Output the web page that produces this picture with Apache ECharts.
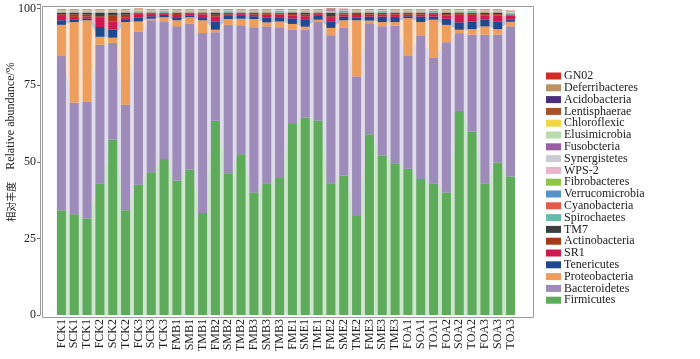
<!DOCTYPE html>
<html>
<head>
<meta charset="utf-8">
<script src="https://cdn.jsdelivr.net/npm/echarts@6/dist/echarts.min.js"></script>
<style>html,body{margin:0;padding:0;background:#fff}#c{width:700px;height:359px}</style>
</head>
<body>
<div id="c"></div>
<script>
var categories = ['FCK1','SCK1','TCK1','FCK2','SCK2','TCK2','FCK3','SCK3','TCK3','FMB1','SMB1','TMB1','FMB2','SMB2','TMB2','FMB3','SMB3','TMB3','FME1','SME1','TME1','FME2','SME2','TME2','FME3','SME3','TME3','FOA1','SOA1','TOA1','FOA2','SOA2','TOA2','FOA3','SOA3','TOA3'];
var yTicks = [0, 25, 50, 75, 100];

var Firmicutes      = [34.2,32.9,31.4,42.8,57.2,34.2,42.5,46.6,50.9,43.9,47.5,33.3,63.4,46.3,52.5,39.9,43.0,44.7,62.3,64.4,63.4,43.0,45.5,32.3,59.0,52.0,49.5,47.7,44.4,42.8,39.9,66.6,59.8,42.8,49.8,45.2];
var Bacteroidetes   = [50.3,36.4,38.2,45.4,31.6,34.4,49.9,49.6,44.7,50.3,47.6,58.7,28.9,48.4,42.1,54.0,51.2,49.2,30.8,28.7,32.2,48.3,48.2,45.5,36.2,42.2,44.9,37.0,46.9,41.1,49.1,25.4,31.7,48.7,41.7,49.0];
var Proteobacteria  = [10.2,26.3,26.6,2.6,1.7,27.0,3.4,0.5,1.6,2.0,2.1,4.2,0.8,1.9,2.1,2.7,1.3,1.9,1.9,1.0,0.8,2.4,2.5,18.4,0.9,1.4,1.2,12.2,4.3,12.5,5.7,1.1,1.8,2.7,1.8,1.5];
var Tenericutes     = [1.5,0.9,0.6,3.2,2.7,0.7,1.2,0.8,0.7,1.0,0.6,1.0,2.7,1.0,0.9,0.9,1.6,1.4,1.8,2.4,1.2,2.0,1.2,0.9,1.3,1.8,1.7,0.6,1.8,1.0,2.0,2.4,2.5,2.2,2.5,0.8];
var SR1             = [1.4,0.8,0.6,3.2,2.6,0.8,1.2,0.7,0.3,0.7,0.5,0.9,1.6,0.5,0.6,0.5,0.9,0.9,1.0,1.0,0.6,1.2,0.7,0.8,0.6,0.6,0.7,0.5,0.6,0.8,1.0,2.5,2.2,1.3,1.9,1.2];
var Actinobacteria  = [0.6,0.8,0.7,0.3,2.0,0.9,0.2,0.2,0.2,0.4,0.1,0.3,0.6,0.2,0.2,0.3,0.4,0.3,0.4,0.6,0.2,0.6,0.3,0.4,0.3,0.3,0.3,0.3,0.3,0.2,0.5,0.3,0.3,0.5,0.5,0.2];
var TM7             = [0.4,0.5,0.5,1.1,0.8,0.6,0.2,0.2,0.2,0.3,0.2,0.2,0.6,0.3,0.2,0.3,0.2,0.2,0.4,0.5,0.2,1.1,0.2,0.3,0.3,0.3,0.3,0.3,0.3,0.2,0.4,0.3,0.3,0.4,0.4,0.2];
var Spirochaetes    = [0.2,0.2,0.2,0.2,0.2,0.2,0.2,0.2,0.3,0.2,0.2,0.2,0.2,0.3,0.2,0.2,0.2,0.3,0.2,0.2,0.2,0.2,0.3,0.2,0.2,0.3,0.2,0.2,0.2,0.3,0.2,0.2,0.3,0.2,0.2,0.3];
var Cyanobacteria   = [0.1,0.1,0.1,0.1,0.1,0.1,0.1,0.1,0.1,0.1,0.1,0.1,0.1,0.1,0.1,0.1,0.1,0.1,0.1,0.1,0.1,0.1,0.2,0.1,0.1,0.1,0.1,0.1,0.1,0.1,0.1,0.1,0.1,0.1,0.1,0.1];
var Verrucomicrobia = [0.1,0.1,0.1,0.1,0.1,0.1,0.1,0.1,0.1,0.1,0.1,0.1,0.1,0.1,0.1,0.1,0.1,0.1,0.1,0.1,0.1,0.1,0.1,0.1,0.1,0.1,0.1,0.1,0.1,0.1,0.1,0.1,0.1,0.1,0.1,0.1];
var Fibrobacteres   = [0.1,0.1,0.1,0.1,0.1,0.1,0.4,0.1,0.1,0.1,0.1,0.1,0.1,0.1,0.1,0.1,0.1,0.1,0.1,0.1,0.1,0.1,0.1,0.1,0.1,0.1,0.1,0.1,0.1,0.1,0.1,0.1,0.1,0.1,0.1,0.1];
var WPS2            = [0.1,0.1,0.1,0.1,0.1,0.1,0.1,0.1,0.1,0.1,0.1,0.1,0.1,0.1,0.1,0.1,0.1,0.1,0.1,0.1,0.1,0.1,0.1,0.1,0.1,0.1,0.1,0.1,0.1,0.1,0.1,0.1,0.1,0.1,0.1,0.1];
var Synergistetes   = [0.1,0.1,0.1,0.1,0.1,0.1,0.1,0.1,0.1,0.1,0.1,0.1,0.1,0.1,0.1,0.1,0.1,0.1,0.1,0.1,0.1,0.1,0.1,0.1,0.1,0.1,0.1,0.1,0.1,0.1,0.1,0.1,0.1,0.1,0.1,0.1];
var Fusobcteria     = [0.05,0.05,0.05,0.05,0.05,0.05,0.05,0.05,0.05,0.05,0.05,0.05,0.05,0.05,0.05,0.05,0.05,0.05,0.05,0.05,0.05,0.5,0.05,0.05,0.05,0.05,0.05,0.05,0.05,0.05,0.05,0.05,0.05,0.05,0.05,0.05];
var Elusimicrobia   = [0.1,0.1,0.1,0.1,0.1,0.1,0.1,0.1,0.1,0.1,0.1,0.1,0.1,0.1,0.1,0.1,0.1,0.1,0.2,0.1,0.1,0.1,0.1,0.1,0.2,0.1,0.1,0.1,0.1,0.1,0.1,0.2,0.1,0.1,0.1,0.1];
var Chloroflexic    = [0.05,0.05,0.05,0.05,0.05,0.05,0.05,0.05,0.05,0.05,0.05,0.05,0.05,0.05,0.05,0.05,0.05,0.05,0.05,0.05,0.05,0.05,0.05,0.05,0.05,0.05,0.05,0.05,0.05,0.05,0.05,0.05,0.05,0.05,0.05,0.05];
var Lentisphaerae   = [0.05,0.05,0.05,0.05,0.05,0.05,0.05,0.05,0.05,0.05,0.05,0.05,0.05,0.05,0.05,0.05,0.05,0.05,0.05,0.05,0.05,0.05,0.05,0.05,0.05,0.05,0.05,0.05,0.05,0.05,0.05,0.05,0.05,0.05,0.05,0.05];
var Acidobacteria   = [0.05,0.05,0.05,0.05,0.05,0.05,0.05,0.05,0.05,0.05,0.05,0.05,0.05,0.05,0.05,0.05,0.05,0.05,0.05,0.05,0.05,0.05,0.05,0.05,0.05,0.05,0.05,0.05,0.05,0.05,0.05,0.05,0.05,0.05,0.05,0.05];
var Deferribacteres = [0.2,0.1,0.1,0.1,0.1,0.1,0.1,0.1,0.1,0.1,0.1,0.1,0.1,0.1,0.1,0.1,0.1,0.1,0.1,0.1,0.1,0.1,0.1,0.1,0.1,0.1,0.1,0.1,0.1,0.1,0.1,0.1,0.1,0.1,0.1,0.1];
var GN02            = [0.05,0.05,0.05,0.05,0.05,0.05,0.05,0.05,0.05,0.05,0.05,0.05,0.05,0.05,0.05,0.05,0.05,0.05,0.05,0.05,0.05,0.05,0.05,0.05,0.05,0.05,0.05,0.05,0.05,0.05,0.05,0.05,0.05,0.05,0.05,0.05];

var seriesNames = ['Firmicutes','Bacteroidetes','Proteobacteria','Tenericutes','SR1','Actinobacteria','TM7','Spirochaetes','Cyanobacteria','Verrucomicrobia','Fibrobacteres','WPS-2','Synergistetes','Fusobcteria','Elusimicrobia','Chloroflexic','Lentisphaerae','Acidobacteria','Deferribacteres','GN02'];
var seriesValues = [Firmicutes,Bacteroidetes,Proteobacteria,Tenericutes,SR1,Actinobacteria,TM7,Spirochaetes,Cyanobacteria,Verrucomicrobia,Fibrobacteres,WPS2,Synergistetes,Fusobcteria,Elusimicrobia,Chloroflexic,Lentisphaerae,Acidobacteria,Deferribacteres,GN02];
var seriesColors = ['#5dab5b','#9d8cb9','#ed9e5c','#21478c','#d1174f','#a43a17','#3c3f42','#6db9a9','#e65a4b','#5592c9','#8fc641','#e9b4cb','#c9ccd1','#9a5ea4','#b9dcad','#f1d645','#a4532b','#4b2e7e','#bb9466','#d42a26'];

var serif = '"Liberation Serif","Noto Sans CJK SC",serif';
var series = [];
seriesNames.forEach(function (n, i) {
  series.push({
    name: '_' + n, type: 'line', stack: 'area', data: seriesValues[i],
    showSymbol: false, symbol: 'none', silent: true, z: 1,
    lineStyle: { width: 0 },
    areaStyle: { color: seriesColors[i], opacity: 0.3 }
  });
});
seriesNames.forEach(function (n, i) {
  series.push({
    name: n, type: 'bar', stack: 'bars', data: seriesValues[i],
    barWidth: 9, z: 2,
    itemStyle: { color: seriesColors[i] }
  });
});

var chart = echarts.init(document.getElementById('c'), null, { renderer: 'canvas' });
chart.setOption({
  animation: false,
  backgroundColor: '#fff',
  grid: { left: 55, right: 183, top: 4, bottom: 44, containLabel: false, outerBoundsMode: 'none' },
  graphic: [{
    type: 'rect', left: 40, top: 4, z: 10, silent: true,
    shape: { width: 491, height: 311 },
    style: { fill: 'none', stroke: '#9a9a9a', lineWidth: 1 }
  }],
  legend: {
    orient: 'vertical', left: 541, top: 65,
    data: seriesNames.slice().reverse(),
    icon: 'rect', itemWidth: 15, itemHeight: 7, itemGap: -0.2,
    textStyle: { fontFamily: serif, fontSize: 12, color: '#222', lineHeight: 12, padding: [0,0,0,-2] }
  },
  xAxis: {
    type: 'category', data: categories, boundaryGap: true,
    axisLine: { show: false },
    axisTick: { show: false },
    axisLabel: { rotate: 90, interval: 0, margin: 4, fontFamily: serif, fontSize: 12, color: '#222' }
  },
  yAxis: {
    type: 'value', min: 0, max: 101.5, interval: 25, offset: 15,
    name: '{c|相对丰度}    Relative abundance/%', nameLocation: 'middle', nameGap: 23,
    nameMoveOverlap: false,
    nameTextStyle: {
      fontFamily: serif, fontSize: 12, color: '#222', padding: [0, 0, 0, 35],
      rich: { c: { fontFamily: '"Noto Sans CJK SC",serif', fontSize: 10, color: '#222' } }
    },
    splitLine: { show: false },
    axisLine: { show: true, lineStyle: { color: '#9a9a9a' } },
    axisTick: { show: true, length: 3, lineStyle: { color: '#666' } },
    axisLabel: {
      fontFamily: serif, fontSize: 12, color: '#222', margin: 4,
      formatter: function (v) { return yTicks.indexOf(v) >= 0 ? String(v) : ''; }
    }
  },
  series: series
});
</script>
</body>
</html>
